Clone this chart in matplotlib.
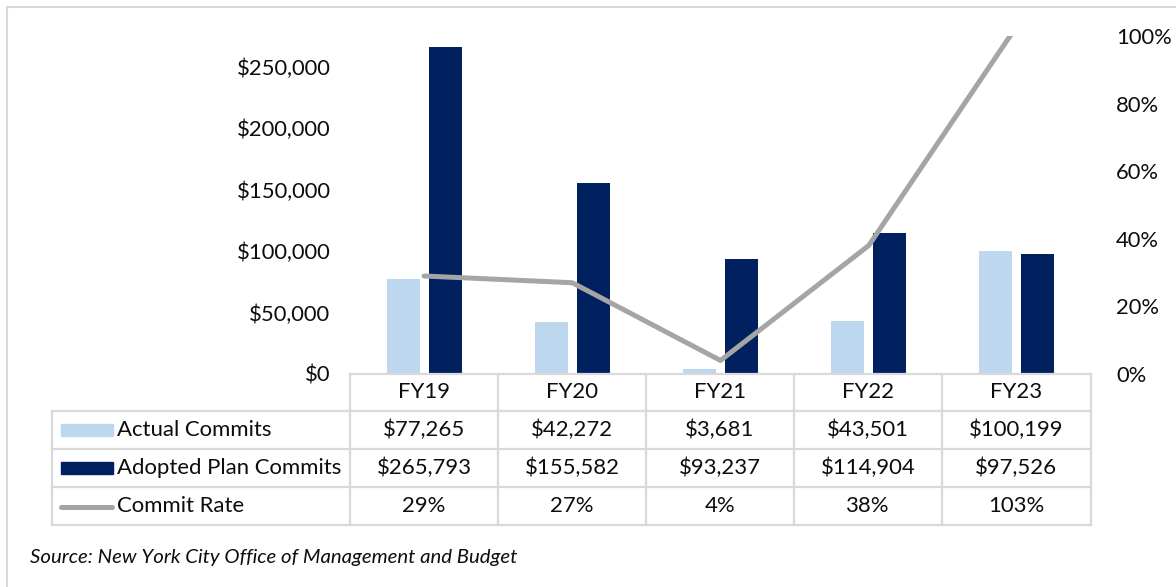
import matplotlib.pyplot as plt
from matplotlib.lines import Line2D
from matplotlib.patches import Rectangle
from matplotlib.ticker import FuncFormatter

years = ['FY19', 'FY20', 'FY21', 'FY22', 'FY23']
actual = [77265, 42272, 3681, 43501, 100199]
adopted = [265793, 155582, 93237, 114904, 97526]
rate = [0.29, 0.27, 0.04, 0.38, 1.03]
actual_txt = ['$77,265', '$42,272', '$3,681', '$43,501', '$100,199']
adopted_txt = ['$265,793', '$155,582', '$93,237', '$114,904', '$97,526']
rate_txt = ['29%', '27%', '4%', '38%', '103%']

light = '#BDD7EE'
navy = '#002060'
gray = '#A5A5A5'
grid = '#D9D9D9'
txt = '#0d0d0d'

plt.rcParams['font.family'] = ['Lato', 'DejaVu Sans']

W, H = 1176, 587
fig = plt.figure(figsize=(W / 100, H / 100), dpi=100)

def fx(x):
    return x / W

def fy(y):
    return 1 - y / H

# plot area in pixels: x 350-1091, y 36-374
ax = fig.add_axes([fx(350), fy(374), fx(1091 - 350), (374 - 36) / H])
ax2 = ax.twinx()

xs = list(range(len(years)))
bw = 0.223
off = 0.142
ax.bar([x - off for x in xs], actual, bw, color=light)
ax.bar([x + off for x in xs], adopted, bw, color=navy)
ax.set_xlim(-0.5, len(years) - 0.5)
ax.set_ylim(0, 275000)
ax.set_yticks(range(0, 250001, 50000))
ax.yaxis.set_major_formatter(FuncFormatter(lambda v, p: '${:,.0f}'.format(v)))
ax.set_xticks([])

ax2.plot(xs, rate, color=gray, lw=3.6, solid_capstyle='round')
ax2.set_ylim(0, 1)
ax2.set_yticks([0, 0.2, 0.4, 0.6, 0.8, 1.0])
ax2.yaxis.set_major_formatter(FuncFormatter(lambda v, p: '{:.0f}%'.format(v * 100)))

for a in (ax, ax2):
    for s in a.spines.values():
        s.set_visible(False)
    a.tick_params(length=0, labelsize=15.8, labelcolor=txt)
ax.tick_params(axis='y', pad=14)
ax2.tick_params(axis='y', pad=18)

# data table
cols = [350, 498, 646, 794, 942, 1091]
rows = [374, 411, 449, 487, 525]
left = 52
lw = 1.6

def hline(y, x0, x1):
    fig.add_artist(Line2D([fx(x0), fx(x1)], [fy(y), fy(y)], color=grid, lw=lw))

def vline(x, y0, y1):
    fig.add_artist(Line2D([fx(x), fx(x)], [fy(y0), fy(y1)], color=grid, lw=lw))

hline(rows[0], cols[0], cols[-1])
for y in rows[1:]:
    hline(y, left, cols[-1])
for x in cols:
    vline(x, rows[0], rows[-1])
vline(left, rows[1], rows[-1])

fs = 15.9
for i, yr in enumerate(years):
    cx = (cols[i] + cols[i + 1]) / 2
    fig.text(fx(cx), fy((rows[0] + rows[1]) / 2), yr, ha='center', va='center', fontsize=fs, color=txt)
    for r, vals in enumerate([actual_txt, adopted_txt, rate_txt]):
        cy = (rows[r + 1] + rows[r + 2]) / 2
        fig.text(fx(cx), fy(cy), vals[i], ha='center', va='center', fontsize=fs, color=txt)

labels = ['Actual Commits', 'Adopted Plan Commits', 'Commit Rate']
for r, lab in enumerate(labels):
    cy = (rows[r + 1] + rows[r + 2]) / 2
    fig.text(fx(117), fy(cy), lab, ha='left', va='center', fontsize=fs, color=txt)

fig.add_artist(Rectangle((fx(61), fy(436)), fx(52), 12 / H, color=light))
fig.add_artist(Rectangle((fx(61), fy(474)), fx(52), 12 / H, color=navy))
fig.add_artist(Line2D([fx(61), fx(112)], [fy(507), fy(507)], color=gray, lw=3.6,
                      solid_capstyle='round'))

fig.text(fx(30), fy(557), 'Source: New York City Office of Management and Budget',
         ha='left', va='center', fontsize=14.7, style='italic', color=txt)

# outer frame (top and left edges visible)
fig.add_artist(Line2D([fx(7), fx(1176)], [fy(7), fy(7)], color=grid, lw=1.5))
fig.add_artist(Line2D([fx(7), fx(7)], [fy(7), fy(587)], color=grid, lw=1.5))

fig.savefig('out.png', dpi=100)
